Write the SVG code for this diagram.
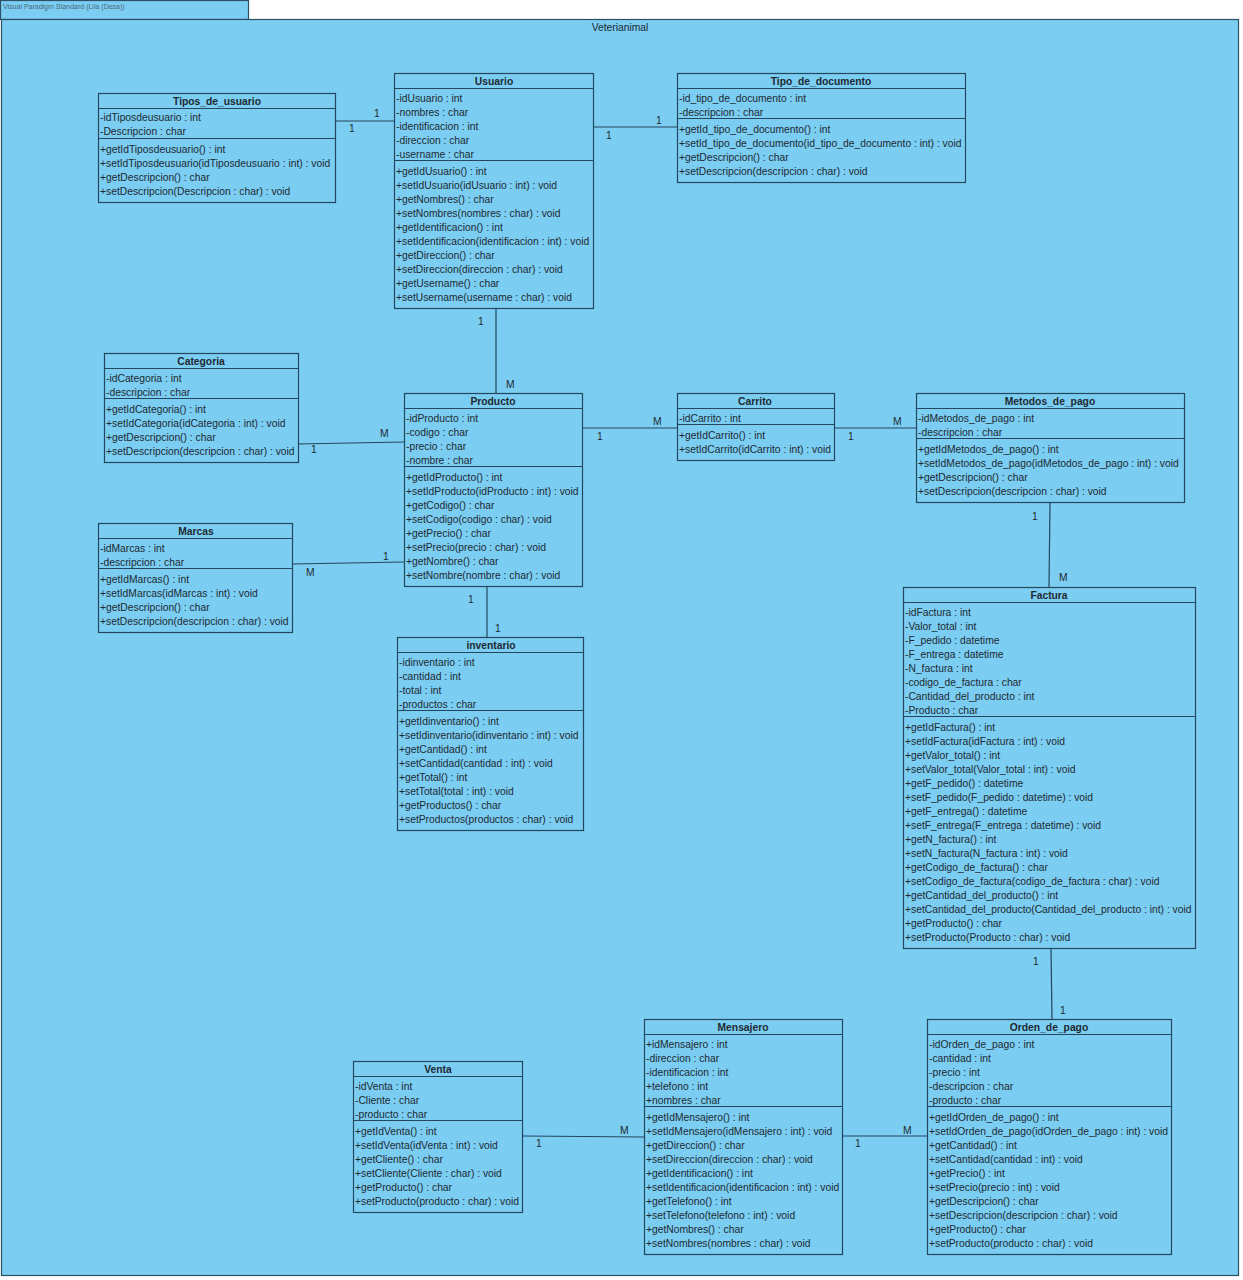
<svg xmlns="http://www.w3.org/2000/svg" width="1243" height="1280" viewBox="0 0 1243 1280">
<style>
.frame{fill:#7bcdf1;stroke:#2f4f64;stroke-width:1.2}
.box{fill:#7bcdf1;stroke:#24465e;stroke-width:1.2}
.sep{stroke:#24465e;stroke-width:1.2}
.t{font-family:"Liberation Sans",Arial,sans-serif;font-size:10.3px;fill:#1e2a33}
.h{font-family:"Liberation Sans",Arial,sans-serif;font-size:10.3px;font-weight:bold;fill:#1e2a33;text-anchor:middle}
.c{stroke:#24465e;stroke-width:1.2;fill:none}
.l{font-family:"Liberation Sans",Arial,sans-serif;font-size:10.3px;fill:#1e2a33}
.tab{font-family:"Liberation Sans",Arial,sans-serif;font-size:7px;fill:#4a6a80}
</style>
<rect x="0" y="0" width="1243" height="1280" fill="#ffffff"/>
<g id="package">
<rect class="frame" x="0.5" y="0.5" width="248" height="19"/>
<text class="tab" x="3" y="9">Visual Paradigm Standard (Lila (Desa))</text>
<rect class="frame" x="1.5" y="19.5" width="1237" height="1256"/>
<text class="l" x="620" y="31" text-anchor="middle">Veterianimal</text>
</g>
<g id="connectors">
<line class="c" x1="335" y1="121" x2="394" y2="121"/>
<text class="l" x="374" y="117">1</text><text class="l" x="349" y="132">1</text>
<line class="c" x1="593" y1="127" x2="677" y2="127"/>
<text class="l" x="656" y="124">1</text><text class="l" x="606" y="139">1</text>
<line class="c" x1="496" y1="308" x2="496" y2="393"/>
<text class="l" x="478" y="325">1</text><text class="l" x="506" y="388">M</text>
<line class="c" x1="298" y1="444" x2="404" y2="442"/>
<text class="l" x="380" y="437">M</text><text class="l" x="311" y="453">1</text>
<line class="c" x1="582" y1="428" x2="677" y2="428"/>
<text class="l" x="653" y="425">M</text><text class="l" x="597" y="440">1</text>
<line class="c" x1="834" y1="428" x2="916" y2="428"/>
<text class="l" x="893" y="425">M</text><text class="l" x="848" y="440">1</text>
<line class="c" x1="292" y1="564" x2="404" y2="562"/>
<text class="l" x="383" y="560">1</text><text class="l" x="306" y="576">M</text>
<line class="c" x1="487" y1="586" x2="487" y2="637"/>
<text class="l" x="468" y="603">1</text><text class="l" x="495" y="632">1</text>
<line class="c" x1="1050" y1="502" x2="1049" y2="587"/>
<text class="l" x="1032" y="520">1</text><text class="l" x="1059" y="581">M</text>
<line class="c" x1="1051" y1="948" x2="1052" y2="1019"/>
<text class="l" x="1033" y="965">1</text><text class="l" x="1060" y="1014">1</text>
<line class="c" x1="522" y1="1136" x2="644" y2="1137"/>
<text class="l" x="536" y="1147">1</text><text class="l" x="620" y="1134">M</text>
<line class="c" x1="842" y1="1136" x2="927" y2="1136"/>
<text class="l" x="903" y="1134">M</text><text class="l" x="855" y="1147">1</text>
</g>
<g id="Tipos_de_usuario">
<rect class="box" x="98.5" y="93.5" width="237" height="109"/>
<text class="h" x="217" y="105">Tipos_de_usuario</text>
<line class="sep" x1="98.5" y1="108.5" x2="335.5" y2="108.5"/>
<text class="t" x="100" y="121">-idTiposdeusuario : int</text>
<text class="t" x="100" y="135">-Descripcion : char</text>
<line class="sep" x1="98.5" y1="138.5" x2="335.5" y2="138.5"/>
<text class="t" x="100" y="153">+getIdTiposdeusuario() : int</text>
<text class="t" x="100" y="167">+setIdTiposdeusuario(idTiposdeusuario : int) : void</text>
<text class="t" x="100" y="181">+getDescripcion() : char</text>
<text class="t" x="100" y="195">+setDescripcion(Descripcion : char) : void</text>
</g>
<g id="Usuario">
<rect class="box" x="394.5" y="73.5" width="199" height="235"/>
<text class="h" x="494" y="85">Usuario</text>
<line class="sep" x1="394.5" y1="88.5" x2="593.5" y2="88.5"/>
<text class="t" x="396" y="102">-idUsuario : int</text>
<text class="t" x="396" y="116">-nombres : char</text>
<text class="t" x="396" y="130">-identificacion : int</text>
<text class="t" x="396" y="144">-direccion : char</text>
<text class="t" x="396" y="158">-username : char</text>
<line class="sep" x1="394.5" y1="160.5" x2="593.5" y2="160.5"/>
<text class="t" x="396" y="175">+getIdUsuario() : int</text>
<text class="t" x="396" y="189">+setIdUsuario(idUsuario : int) : void</text>
<text class="t" x="396" y="203">+getNombres() : char</text>
<text class="t" x="396" y="217">+setNombres(nombres : char) : void</text>
<text class="t" x="396" y="231">+getIdentificacion() : int</text>
<text class="t" x="396" y="245">+setIdentificacion(identificacion : int) : void</text>
<text class="t" x="396" y="259">+getDireccion() : char</text>
<text class="t" x="396" y="273">+setDireccion(direccion : char) : void</text>
<text class="t" x="396" y="287">+getUsername() : char</text>
<text class="t" x="396" y="301">+setUsername(username : char) : void</text>
</g>
<g id="Tipo_de_documento">
<rect class="box" x="677.5" y="73.5" width="288" height="109"/>
<text class="h" x="821" y="85">Tipo_de_documento</text>
<line class="sep" x1="677.5" y1="88.5" x2="965.5" y2="88.5"/>
<text class="t" x="679" y="102">-id_tipo_de_documento : int</text>
<text class="t" x="679" y="116">-descripcion : char</text>
<line class="sep" x1="677.5" y1="118.5" x2="965.5" y2="118.5"/>
<text class="t" x="679" y="133">+getId_tipo_de_documento() : int</text>
<text class="t" x="679" y="147">+setId_tipo_de_documento(id_tipo_de_documento : int) : void</text>
<text class="t" x="679" y="161">+getDescripcion() : char</text>
<text class="t" x="679" y="175">+setDescripcion(descripcion : char) : void</text>
</g>
<g id="Categoria">
<rect class="box" x="104.5" y="353.5" width="194" height="109"/>
<text class="h" x="201" y="365">Categoria</text>
<line class="sep" x1="104.5" y1="368.5" x2="298.5" y2="368.5"/>
<text class="t" x="106" y="382">-idCategoria : int</text>
<text class="t" x="106" y="396">-descripcion : char</text>
<line class="sep" x1="104.5" y1="398.5" x2="298.5" y2="398.5"/>
<text class="t" x="106" y="413">+getIdCategoria() : int</text>
<text class="t" x="106" y="427">+setIdCategoria(idCategoria : int) : void</text>
<text class="t" x="106" y="441">+getDescripcion() : char</text>
<text class="t" x="106" y="455">+setDescripcion(descripcion : char) : void</text>
</g>
<g id="Producto">
<rect class="box" x="404.5" y="393.5" width="178" height="193"/>
<text class="h" x="493" y="405">Producto</text>
<line class="sep" x1="404.5" y1="408.5" x2="582.5" y2="408.5"/>
<text class="t" x="406" y="422">-idProducto : int</text>
<text class="t" x="406" y="436">-codigo : char</text>
<text class="t" x="406" y="450">-precio : char</text>
<text class="t" x="406" y="464">-nombre : char</text>
<line class="sep" x1="404.5" y1="466.5" x2="582.5" y2="466.5"/>
<text class="t" x="406" y="481">+getIdProducto() : int</text>
<text class="t" x="406" y="495">+setIdProducto(idProducto : int) : void</text>
<text class="t" x="406" y="509">+getCodigo() : char</text>
<text class="t" x="406" y="523">+setCodigo(codigo : char) : void</text>
<text class="t" x="406" y="537">+getPrecio() : char</text>
<text class="t" x="406" y="551">+setPrecio(precio : char) : void</text>
<text class="t" x="406" y="565">+getNombre() : char</text>
<text class="t" x="406" y="579">+setNombre(nombre : char) : void</text>
</g>
<g id="Carrito">
<rect class="box" x="677.5" y="393.5" width="157" height="67"/>
<text class="h" x="755" y="405">Carrito</text>
<line class="sep" x1="677.5" y1="408.5" x2="834.5" y2="408.5"/>
<text class="t" x="679" y="422">-idCarrito : int</text>
<line class="sep" x1="677.5" y1="424.5" x2="834.5" y2="424.5"/>
<text class="t" x="679" y="439">+getIdCarrito() : int</text>
<text class="t" x="679" y="453">+setIdCarrito(idCarrito : int) : void</text>
</g>
<g id="Metodos_de_pago">
<rect class="box" x="916.5" y="393.5" width="268" height="109"/>
<text class="h" x="1050" y="405">Metodos_de_pago</text>
<line class="sep" x1="916.5" y1="408.5" x2="1184.5" y2="408.5"/>
<text class="t" x="918" y="422">-idMetodos_de_pago : int</text>
<text class="t" x="918" y="436">-descripcion : char</text>
<line class="sep" x1="916.5" y1="438.5" x2="1184.5" y2="438.5"/>
<text class="t" x="918" y="453">+getIdMetodos_de_pago() : int</text>
<text class="t" x="918" y="467">+setIdMetodos_de_pago(idMetodos_de_pago : int) : void</text>
<text class="t" x="918" y="481">+getDescripcion() : char</text>
<text class="t" x="918" y="495">+setDescripcion(descripcion : char) : void</text>
</g>
<g id="Marcas">
<rect class="box" x="98.5" y="523.5" width="194" height="109"/>
<text class="h" x="196" y="535">Marcas</text>
<line class="sep" x1="98.5" y1="538.5" x2="292.5" y2="538.5"/>
<text class="t" x="100" y="552">-idMarcas : int</text>
<text class="t" x="100" y="566">-descripcion : char</text>
<line class="sep" x1="98.5" y1="568.5" x2="292.5" y2="568.5"/>
<text class="t" x="100" y="583">+getIdMarcas() : int</text>
<text class="t" x="100" y="597">+setIdMarcas(idMarcas : int) : void</text>
<text class="t" x="100" y="611">+getDescripcion() : char</text>
<text class="t" x="100" y="625">+setDescripcion(descripcion : char) : void</text>
</g>
<g id="inventario">
<rect class="box" x="397.5" y="637.5" width="186" height="193"/>
<text class="h" x="491" y="649">inventario</text>
<line class="sep" x1="397.5" y1="652.5" x2="583.5" y2="652.5"/>
<text class="t" x="399" y="666">-idinventario : int</text>
<text class="t" x="399" y="680">-cantidad : int</text>
<text class="t" x="399" y="694">-total : int</text>
<text class="t" x="399" y="708">-productos : char</text>
<line class="sep" x1="397.5" y1="710.5" x2="583.5" y2="710.5"/>
<text class="t" x="399" y="725">+getIdinventario() : int</text>
<text class="t" x="399" y="739">+setIdinventario(idinventario : int) : void</text>
<text class="t" x="399" y="753">+getCantidad() : int</text>
<text class="t" x="399" y="767">+setCantidad(cantidad : int) : void</text>
<text class="t" x="399" y="781">+getTotal() : int</text>
<text class="t" x="399" y="795">+setTotal(total : int) : void</text>
<text class="t" x="399" y="809">+getProductos() : char</text>
<text class="t" x="399" y="823">+setProductos(productos : char) : void</text>
</g>
<g id="Factura">
<rect class="box" x="903.5" y="587.5" width="292" height="361"/>
<text class="h" x="1049" y="599">Factura</text>
<line class="sep" x1="903.5" y1="602.5" x2="1195.5" y2="602.5"/>
<text class="t" x="905" y="616">-idFactura : int</text>
<text class="t" x="905" y="630">-Valor_total : int</text>
<text class="t" x="905" y="644">-F_pedido : datetime</text>
<text class="t" x="905" y="658">-F_entrega : datetime</text>
<text class="t" x="905" y="672">-N_factura : int</text>
<text class="t" x="905" y="686">-codigo_de_factura : char</text>
<text class="t" x="905" y="700">-Cantidad_del_producto : int</text>
<text class="t" x="905" y="714">-Producto : char</text>
<line class="sep" x1="903.5" y1="716.5" x2="1195.5" y2="716.5"/>
<text class="t" x="905" y="731">+getIdFactura() : int</text>
<text class="t" x="905" y="745">+setIdFactura(idFactura : int) : void</text>
<text class="t" x="905" y="759">+getValor_total() : int</text>
<text class="t" x="905" y="773">+setValor_total(Valor_total : int) : void</text>
<text class="t" x="905" y="787">+getF_pedido() : datetime</text>
<text class="t" x="905" y="801">+setF_pedido(F_pedido : datetime) : void</text>
<text class="t" x="905" y="815">+getF_entrega() : datetime</text>
<text class="t" x="905" y="829">+setF_entrega(F_entrega : datetime) : void</text>
<text class="t" x="905" y="843">+getN_factura() : int</text>
<text class="t" x="905" y="857">+setN_factura(N_factura : int) : void</text>
<text class="t" x="905" y="871">+getCodigo_de_factura() : char</text>
<text class="t" x="905" y="885">+setCodigo_de_factura(codigo_de_factura : char) : void</text>
<text class="t" x="905" y="899">+getCantidad_del_producto() : int</text>
<text class="t" x="905" y="913">+setCantidad_del_producto(Cantidad_del_producto : int) : void</text>
<text class="t" x="905" y="927">+getProducto() : char</text>
<text class="t" x="905" y="941">+setProducto(Producto : char) : void</text>
</g>
<g id="Venta">
<rect class="box" x="353.5" y="1061.5" width="169" height="151"/>
<text class="h" x="438" y="1073">Venta</text>
<line class="sep" x1="353.5" y1="1076.5" x2="522.5" y2="1076.5"/>
<text class="t" x="355" y="1090">-idVenta : int</text>
<text class="t" x="355" y="1104">-Cliente : char</text>
<text class="t" x="355" y="1118">-producto : char</text>
<line class="sep" x1="353.5" y1="1120.5" x2="522.5" y2="1120.5"/>
<text class="t" x="355" y="1135">+getIdVenta() : int</text>
<text class="t" x="355" y="1149">+setIdVenta(idVenta : int) : void</text>
<text class="t" x="355" y="1163">+getCliente() : char</text>
<text class="t" x="355" y="1177">+setCliente(Cliente : char) : void</text>
<text class="t" x="355" y="1191">+getProducto() : char</text>
<text class="t" x="355" y="1205">+setProducto(producto : char) : void</text>
</g>
<g id="Mensajero">
<rect class="box" x="644.5" y="1019.5" width="198" height="235"/>
<text class="h" x="743" y="1031">Mensajero</text>
<line class="sep" x1="644.5" y1="1034.5" x2="842.5" y2="1034.5"/>
<text class="t" x="646" y="1048">+idMensajero : int</text>
<text class="t" x="646" y="1062">-direccion : char</text>
<text class="t" x="646" y="1076">-identificacion : int</text>
<text class="t" x="646" y="1090">+telefono : int</text>
<text class="t" x="646" y="1104">+nombres : char</text>
<line class="sep" x1="644.5" y1="1106.5" x2="842.5" y2="1106.5"/>
<text class="t" x="646" y="1121">+getIdMensajero() : int</text>
<text class="t" x="646" y="1135">+setIdMensajero(idMensajero : int) : void</text>
<text class="t" x="646" y="1149">+getDireccion() : char</text>
<text class="t" x="646" y="1163">+setDireccion(direccion : char) : void</text>
<text class="t" x="646" y="1177">+getIdentificacion() : int</text>
<text class="t" x="646" y="1191">+setIdentificacion(identificacion : int) : void</text>
<text class="t" x="646" y="1205">+getTelefono() : int</text>
<text class="t" x="646" y="1219">+setTelefono(telefono : int) : void</text>
<text class="t" x="646" y="1233">+getNombres() : char</text>
<text class="t" x="646" y="1247">+setNombres(nombres : char) : void</text>
</g>
<g id="Orden_de_pago">
<rect class="box" x="927.5" y="1019.5" width="244" height="235"/>
<text class="h" x="1049" y="1031">Orden_de_pago</text>
<line class="sep" x1="927.5" y1="1034.5" x2="1171.5" y2="1034.5"/>
<text class="t" x="929" y="1048">-idOrden_de_pago : int</text>
<text class="t" x="929" y="1062">-cantidad : int</text>
<text class="t" x="929" y="1076">-precio : int</text>
<text class="t" x="929" y="1090">-descripcion : char</text>
<text class="t" x="929" y="1104">-producto : char</text>
<line class="sep" x1="927.5" y1="1106.5" x2="1171.5" y2="1106.5"/>
<text class="t" x="929" y="1121">+getIdOrden_de_pago() : int</text>
<text class="t" x="929" y="1135">+setIdOrden_de_pago(idOrden_de_pago : int) : void</text>
<text class="t" x="929" y="1149">+getCantidad() : int</text>
<text class="t" x="929" y="1163">+setCantidad(cantidad : int) : void</text>
<text class="t" x="929" y="1177">+getPrecio() : int</text>
<text class="t" x="929" y="1191">+setPrecio(precio : int) : void</text>
<text class="t" x="929" y="1205">+getDescripcion() : char</text>
<text class="t" x="929" y="1219">+setDescripcion(descripcion : char) : void</text>
<text class="t" x="929" y="1233">+getProducto() : char</text>
<text class="t" x="929" y="1247">+setProducto(producto : char) : void</text>
</g>
</svg>
